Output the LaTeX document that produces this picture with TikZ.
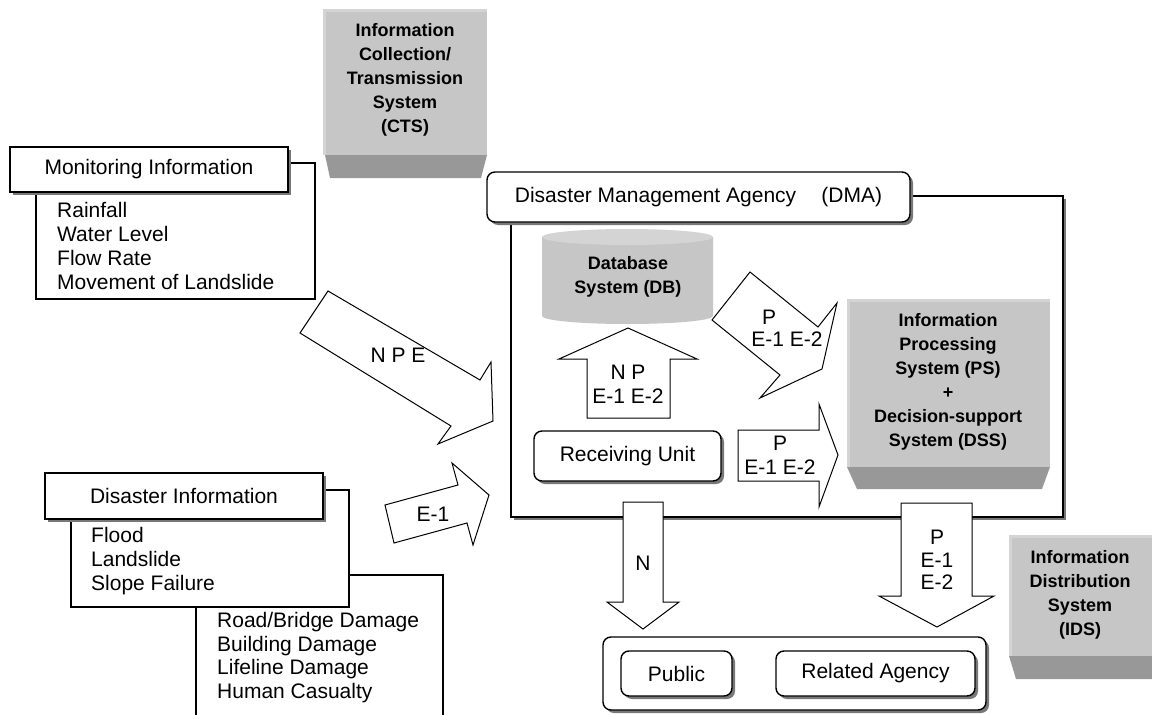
\documentclass[tikz,border=0pt]{standalone}
\usepackage{fontspec}
\setmainfont{Liberation Sans}
\usetikzlibrary{shadows}
\definecolor{lgray}{RGB}{198,198,198}
\definecolor{dgray}{RGB}{152,152,152}
\definecolor{hgray}{RGB}{212,212,212}
\definecolor{sgray}{RGB}{120,120,120}
\newcommand{\regf}{\fontsize{21}{23.7}\selectfont}
\newcommand{\boldf}{\fontsize{18}{24}\selectfont\bfseries}
\begin{document}
\begin{tikzpicture}[x=1pt,y=-1pt,
 box/.style={draw, line width=1.4pt, fill=white, inner sep=0pt, font=\regf},
 shad/.style={drop shadow={shadow xshift=3pt, shadow yshift=-3pt, fill=sgray, opacity=1}},
 rbox/.style={box, rounded corners=8pt},
 blk/.style={draw, line width=1pt, fill=white, line join=miter},
 lbl/.style={font=\regf, align=center, inner sep=0pt},
 btxt/.style={font=\boldf, align=center, inner sep=0pt},
 ltxt/.style={font=\regf, align=left, anchor=west, inner sep=0pt},
]
\useasboundingbox (0,0) rectangle (1152,715);

% CTS block
\fill[lgray] (323,9) rectangle (487,155);
\fill[hgray] (323,9) rectangle (487,12);
\fill[hgray] (323,9) rectangle (326,155);
\fill[dgray] (325,155) -- (487,155) -- (481,178) -- (330,178) -- cycle;
\node[btxt] (cts) at (405,80) {Information\\Collection/\\Transmission\\System\\(CTS)};

% Monitoring information
\node[box, minimum width=279pt, minimum height=136pt] (monlist) at (175.5,231) {};
\node[box, shad, minimum width=278pt, minimum height=45pt] (monhdr) at (149,169.5) {Monitoring Information};
\node[ltxt] (monitems) at (57,246) {Rainfall\\Water Level\\Flow Rate\\Movement of Landslide};

% DMA
\node[box, shad, minimum width=552pt, minimum height=321pt] (dma) at (787,356.5) {};
\node[rbox, shad, minimum width=423pt, minimum height=50pt] (dmahdr) at (698.5,197) {Disaster Management Agency\hspace{1.2em}(DMA)};

% Database cylinder
\fill[lgray] (542,237) -- (542,316) arc[start angle=180, end angle=0, x radius=85.5, y radius=8] -- (713,237) -- cycle;
\fill[hgray] (627.5,237) ellipse [x radius=85.5, y radius=8];
\node[btxt] (db) at (628,277) {Database\\System (DB)};

% PS + DSS block
\fill[lgray] (847,299) rectangle (1050,467);
\fill[hgray] (847,299) rectangle (1050,302);
\fill[hgray] (847,299) rectangle (850,467);
\fill[dgray] (847,467) -- (1050,467) -- (1042,489) -- (857,489) -- cycle;
\node[btxt] (ps) at (948,381.5) {Information\\Processing\\System (PS)\\+\\Decision-support\\System (DSS)};

% Up arrow (Receiving unit -> DB)
\draw[blk] (628,328) -- (697,359) -- (670,359) -- (670,418) -- (587,418) -- (587,359) -- (559,359) -- cycle;
\node[lbl] (upl) at (628,384) {N P\\E-1 E-2};

% Diagonal arrow (DB -> PS)
\draw[blk] (750,272) -- (818,327) -- (837,303) -- (822,369) -- (760,398) -- (780,375) -- (712,320) -- cycle;
\node[lbl] (dgp) at (769,317) {P};
\node[lbl] (dge) at (787,339) {E-1 E-2};

% Receiving unit
\node[rbox, shad, minimum width=187pt, minimum height=50pt] (recv) at (627.5,456) {Receiving Unit};

% Right arrow (Receiving unit -> PS)
\draw[blk] (738,430) -- (819,430) -- (819,404) -- (838,455) -- (819,507) -- (819,481) -- (738,481) -- cycle;
\node[lbl] (rtl) at (780,455) {P\\E-1 E-2};

% NPE arrow
\draw[blk] (328,291) -- (480,380) -- (491,362) -- (493,421) -- (438,444) -- (451,426) -- (300,333) -- cycle;
\node[lbl] (npe) at (398,355) {N P E};

% E-1 arrow
\draw[blk] (385,505) -- (458,485) -- (452,463) -- (489,495) -- (473,545) -- (467,523) -- (394,543) -- cycle;
\node[lbl] (e1) at (433,514) {E-1};

% Disaster information
\draw[line width=1.4pt, fill=white] (196,716) -- (196,575) -- (443,575) -- (443,716);
\node[ltxt] (dmgitems) at (217,657.5) {Road/Bridge Damage\\Building Damage\\Lifeline Damage\\Human Casualty};
\node[box, minimum width=278pt, minimum height=117pt] (dislist) at (210,548.5) {};
\node[box, shad, minimum width=278pt, minimum height=46pt] (dishdr) at (184,496) {Disaster Information};
\node[ltxt] (disitems) at (91,561) {Flood\\Landslide\\Slope Failure};

% Down arrows
\draw[blk] (623,502) -- (663,502) -- (663,602) -- (679,602) -- (643,629) -- (607,602) -- (623,602) -- cycle;
\node[lbl] (nl) at (643,563) {N};
\draw[blk] (901,503) -- (972,503) -- (972,596) -- (994,596) -- (937,627) -- (879,596) -- (901,596) -- cycle;
\node[lbl, font=\fontsize{21}{22.5}\selectfont] (pdl) at (937,560) {P\\E-1\\E-2};

% Receivers
\node[rbox, shad, minimum width=383pt, minimum height=73pt] (recvgrp) at (794.5,673.5) {};
\node[rbox, shad, minimum width=111pt, minimum height=45pt] (pub) at (676.5,673.5) {Public};
\node[rbox, shad, minimum width=199pt, minimum height=45pt] (rel) at (875.5,673.5) {Related Agency};

% IDS block
\fill[lgray] (1009,535) rectangle (1152,656);
\fill[hgray] (1009,535) rectangle (1152,538);
\fill[hgray] (1009,535) rectangle (1012,656);
\fill[dgray] (1009,656) -- (1152,656) -- (1152,679) -- (1016,679) -- cycle;
\node[btxt] (ids) at (1080,594.5) {Information\\Distribution\\System\\(IDS)};
\end{tikzpicture}
\end{document}
